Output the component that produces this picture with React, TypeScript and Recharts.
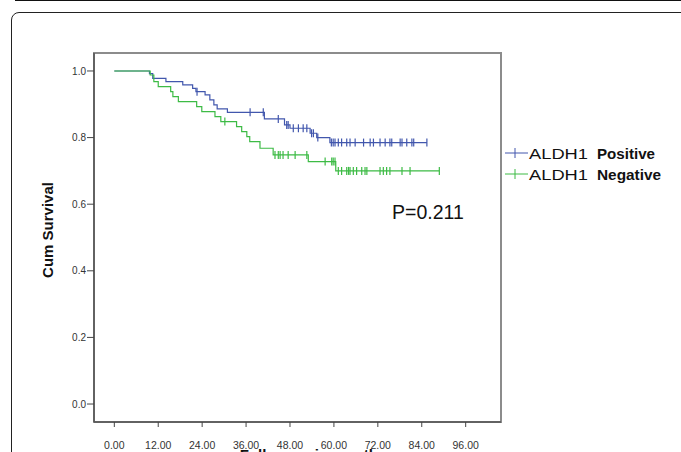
import { Legend, Line, LineChart, ReferenceArea, XAxis, YAxis } from "recharts";

// Kaplan-Meier steps: [month, survival after the event]
const positiveEvents: [number, number][] = [
  [0, 1.0], [9.6, 0.992], [10.5, 0.978], [14.1, 0.968], [18.7, 0.958],
  [21.4, 0.948], [22.3, 0.938], [24.8, 0.928], [26.1, 0.913], [27.2, 0.898],
  [28.1, 0.886], [30.9, 0.876], [41.0, 0.856], [46.5, 0.838], [48.0, 0.828],
  [53.5, 0.813], [55.3, 0.8], [58.9, 0.785],
];
const positiveCensored = [
  22.6, 37.1, 40.7, 44.8, 47.1, 47.5, 48.9, 50.3, 51.6, 52.6, 53.9, 54.4,
  55.6, 59.3, 59.8, 60.3, 61.2, 62.1, 63.5, 64.4, 65.8, 68.1, 69.9, 70.8,
  72.6, 74.0, 75.3, 75.8, 78.1, 78.6, 79.9, 81.3, 81.8, 85.4,
];

const negativeEvents: [number, number][] = [
  [0, 1.0], [9.8, 0.988], [10.8, 0.968], [12.0, 0.953], [15.4, 0.938],
  [16.0, 0.923], [17.5, 0.908], [22.5, 0.893], [23.9, 0.878], [27.5, 0.863],
  [29.1, 0.848], [33.4, 0.833], [34.8, 0.818], [36.2, 0.803], [37.0, 0.788],
  [39.8, 0.768], [43.4, 0.748], [53.0, 0.728], [60.5, 0.7],
];
const negativeCensored = [
  30.2, 43.9, 44.8, 45.3, 46.1, 47.5, 49.4, 52.6, 57.6, 59.4, 59.8, 60.3,
  61.2, 62.1, 63.5, 64.0, 64.4, 65.3, 66.2, 67.6, 68.5, 69.0, 72.6, 73.5,
  74.4, 75.3, 78.6, 80.8, 88.8,
];

const xTicks = [0, 12, 24, 36, 48, 60, 72, 84, 96];
const yTicks = [0, 0.2, 0.4, 0.6, 0.8, 1.0];
const groupMarker = "ALDH1";
const groupLabels = ["Positive", "Negative"];
const seriesColors = ["#4257ad", "#3dbb45"];
const pValueText = "P=0.211";
const yAxisTitle = "Cum Survival";
const xAxisTitle = "Follow-up in months";

const FONT = "'Liberation Sans', Arial, sans-serif";

type Pt = { t: number; s: number; c: boolean };

function buildCurve(events: [number, number][], censored: number[]): Pt[] {
  const pts: Pt[] = events.map(([t, s]) => ({ t, s, c: false }));
  censored.forEach((t) => {
    let s = 1;
    for (const [et, es] of events) if (et <= t) s = es;
    pts.push({ t, s, c: true });
  });
  pts.sort((a, b) => a.t - b.t || Number(a.c) - Number(b.c));
  return pts;
}

const positiveData = buildCurve(positiveEvents, positiveCensored);
const negativeData = buildCurve(negativeEvents, negativeCensored);

const censorDot = (color: string) => (props: any) => {
  const { cx, cy, payload, index } = props;
  if (!payload?.c) return <g key={`d-${index}`} />;
  return (
    <line
      key={`d-${index}`}
      x1={cx}
      x2={cx}
      y1={cy - 4}
      y2={cy + 4}
      stroke={color}
      strokeWidth={1.2}
    />
  );
};

function LegendBox() {
  return (
    <svg width={180} height={50} style={{ overflow: "visible" }}>
      {groupLabels.map((label, i) => {
        const y = 13 + i * 21;
        const color = seriesColors[i];
        return (
          <g key={label}>
            <line x1={5} x2={28} y1={y} y2={y} stroke={color} strokeWidth={1} />
            <line x1={15} x2={15} y1={y - 5} y2={y + 5} stroke={color} strokeWidth={1} />
            <text
              x={29}
              y={y + 5.5}
              fontSize={14}
              fontFamily={FONT}
              fill="#111"
              textLength={59}
              lengthAdjust="spacingAndGlyphs"
            >
              {groupMarker}
            </text>
            <text
              x={97}
              y={y + 5.5}
              fontSize={14}
              fontWeight="bold"
              fontFamily={FONT}
              fill="#111"
              textLength={i === 0 ? 58 : 64}
              lengthAdjust="spacingAndGlyphs"
            >
              {label}
            </text>
          </g>
        );
      })}
    </svg>
  );
}

export default function App() {
  return (
    <div
      style={{
        position: "absolute",
        left: 0,
        top: 0,
        width: 681,
        height: 452,
        overflow: "hidden",
        background: "#fff",
      }}
    >
      <div style={{ position: "absolute", left: 15, top: 0, width: 680, height: 1, background: "#111" }} />
      <div
        style={{
          position: "absolute",
          left: 11,
          top: 12,
          width: 700,
          height: 500,
          border: "1.5px solid #222",
          borderRadius: 8,
        }}
      />
      <div style={{ position: "absolute", left: 0, top: 0 }}>
        <LineChart width={681} height={452} margin={{ top: 53, right: 180, bottom: 0, left: 0 }}>
          <ReferenceArea
            x1={-5.55}
            x2={105.65}
            y1={-0.054}
            y2={1.054}
            fill="none"
            stroke="#8c8c8c"
            strokeWidth={2}
            ifOverflow="visible"
          />
          <XAxis
            type="number"
            dataKey="t"
            domain={[-5.55, 105.65]}
            ticks={xTicks}
            allowDataOverflow
            height={30}
            tickSize={5}
            tickMargin={15}
            tickFormatter={(v: number) => v.toFixed(2)}
            tick={{ fontSize: 10.5, fill: "#333", fontFamily: FONT }}
            stroke="#444"
            axisLine={{ stroke: "#555", strokeWidth: 1.5 }}
          />
          <YAxis
            type="number"
            dataKey="s"
            domain={[-0.054, 1.054]}
            ticks={yTicks}
            allowDataOverflow
            width={94}
            tickSize={7}
            tickMargin={1}
            tickFormatter={(v: number) => v.toFixed(1)}
            tick={{ fontSize: 10, fill: "#333", fontFamily: FONT }}
            stroke="#444"
            axisLine={{ stroke: "#555", strokeWidth: 1.5 }}
          />
          <Line
            data={positiveData}
            dataKey="s"
            name={`${groupMarker} ${groupLabels[0]}`}
            type="stepAfter"
            stroke={seriesColors[0]}
            strokeWidth={1.2}
            dot={censorDot(seriesColors[0])}
            activeDot={false}
            isAnimationActive={false}
          />
          <Line
            data={negativeData}
            dataKey="s"
            name={`${groupMarker} ${groupLabels[1]}`}
            type="stepAfter"
            stroke={seriesColors[1]}
            strokeWidth={1.2}
            dot={censorDot(seriesColors[1])}
            activeDot={false}
            isAnimationActive={false}
          />
          <Legend
            layout="horizontal"
            verticalAlign="middle"
            align="center"
            content={<LegendBox />}
            wrapperStyle={{ left: 500, top: 140, width: 180, height: 50 }}
          />
        </LineChart>
      </div>
      <svg
        width={681}
        height={452}
        style={{ position: "absolute", left: 0, top: 0, pointerEvents: "none" }}
      >
        <text
          x={53}
          y={230}
          transform="rotate(-90 53 230)"
          textAnchor="middle"
          fontSize={15}
          fontWeight="bold"
          fontFamily={FONT}
          fill="#111"
        >
          {yAxisTitle}
        </text>
        <text x={313} y={460} textAnchor="middle" fontSize={15} fontWeight="bold" fontFamily={FONT} fill="#111">
          {xAxisTitle}
        </text>
        <text x={392} y={219} fontSize={19.5} fontFamily={FONT} fill="#111">
          {pValueText}
        </text>
      </svg>
    </div>
  );
}
